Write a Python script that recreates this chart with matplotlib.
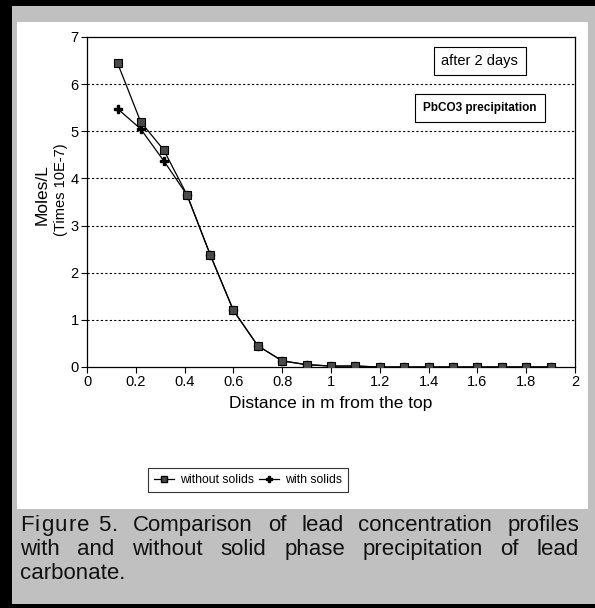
import matplotlib
matplotlib.use("Agg")
import matplotlib.pyplot as plt
from matplotlib.patches import Rectangle
from matplotlib.lines import Line2D

plt.rcParams['font.family'] = ['Liberation Sans', 'DejaVu Sans']

# distance from the top (m)
distance = [0.125, 0.22, 0.315, 0.41, 0.505, 0.6, 0.7, 0.8, 0.9, 1.0,
            1.1, 1.2, 1.3, 1.4, 1.5, 1.6, 1.7, 1.8, 1.9]
# Pb concentration, times 10E-7 moles/L
without_solids = [6.45, 5.2, 4.6, 3.65, 2.38, 1.2, 0.45, 0.13, 0.05, 0.02,
                  0.02, 0.0, 0.0, 0.0, 0.0, 0.0, 0.0, 0.0, 0.0]
with_solids = [5.48, 5.05, 4.37, 3.65, 2.38, 1.2, 0.45, 0.13, 0.05, 0.02,
               0.02, 0.0, 0.0, 0.0, 0.0, 0.0, 0.0, 0.0, 0.0]
xticks = [0, 0.2, 0.4, 0.6, 0.8, 1.0, 1.2, 1.4, 1.6, 1.8, 2.0]
yticks = [0, 1, 2, 3, 4, 5, 6, 7]
caption = ["Figure 5. Comparison of lead concentration profiles",
           "with and without solid phase precipitation of lead",
           "carbonate."]

W, H = 595, 608
fig = plt.figure(figsize=(W / 100, H / 100), dpi=100, facecolor="#c0c0c0")


def px(x, y, w, h):
    # pixel box (top-left origin) -> figure fraction rect
    return (x / W, 1 - (y + h) / H, w / W, h / H)


# frame: black outer edge, white panel
for (x, y, w, h), col in [((0, 0, W, 6), "black"), ((0, 0, 12, H), "black"),
                          ((0, H - 4, W, 4), "black"),
                          ((17, 22, 571, 487), "white")]:
    fx, fy, fw, fh = px(x, y, w, h)
    fig.patches.append(Rectangle((fx, fy), fw, fh, transform=fig.transFigure,
                                 facecolor=col, edgecolor="none", zorder=-5))

ax = fig.add_axes(px(87, 37, 488, 330))
ax.set_zorder(2)
ax.set_facecolor("white")

ax.plot(distance, with_solids, color="black", lw=0.9, marker="P",
        markersize=6, markerfacecolor="black", markeredgecolor="black",
        label="with solids", zorder=3)
ax.plot(distance, without_solids, color="black", lw=0.9, marker="s",
        markersize=6, markerfacecolor="#4a4a4a", markeredgecolor="black",
        markeredgewidth=0.8, label="without solids", zorder=4)

ax.set_xlim(0, 2)
ax.set_ylim(0, 7)
ax.set_xticks(xticks)
ax.set_xticklabels(["%g" % t for t in xticks])
ax.set_yticks(yticks)
ax.tick_params(direction="out", length=4, width=0.8, labelsize=10.5, pad=2)
for s in ax.spines.values():
    s.set_linewidth(0.9)
for yv in yticks[1:-1]:
    ax.axhline(yv, color="black", lw=0.8, linestyle=(0, (2, 2)), zorder=1)

ax.set_xlabel("Distance in m from the top", fontsize=12.5, labelpad=5)

fig.text(42 / W, 1 - 195 / H, "Moles/L", rotation=90, fontsize=12.5,
         ha="center", va="center")
fig.text(61 / W, 1 - 190 / H, "(Times 10E-7)", rotation=90, fontsize=10.5,
         ha="center", va="center")

ax.text(1.61, 6.49, "after 2 days", fontsize=10.5, ha="center", va="center",
        bbox=dict(boxstyle="square,pad=0.5", fc="white", ec="black", lw=0.8))
ax.text(1.61, 5.49, "PbCO3 precipitation", fontsize=8.5, fontweight="bold",
        ha="center", va="center",
        bbox=dict(boxstyle="square,pad=0.7", fc="white", ec="black", lw=0.8))

handles = [Line2D([], [], color="black", lw=0.9, marker="s", markersize=5,
                  markerfacecolor="#4a4a4a", markeredgecolor="black"),
           Line2D([], [], color="black", lw=0.9, marker="P", markersize=5,
                  markerfacecolor="black")]
leg = fig.legend(handles, ["without solids", "with solids"], ncol=2,
                 loc="center", bbox_to_anchor=(248 / W, 1 - 480 / H),
                 fontsize=8.8, frameon=True, fancybox=False, handlelength=1.6,
                 handletextpad=0.5, columnspacing=0.4, borderpad=0.5)
leg.get_frame().set_edgecolor("black")
leg.get_frame().set_linewidth(0.8)

# justified caption
fig.canvas.draw()
r = fig.canvas.get_renderer()
cap_size = 16
track = 1.3          # extra letter spacing for "Figure 5."
left, right = 20, 579
baselines = [531, 555, 579]


def width_of(s):
    if not s:
        return 0.0
    t = fig.text(0, 0, s, fontsize=cap_size)
    w = t.get_window_extent(r).width
    t.remove()
    return w


def put(x, yb, s):
    fig.text(x / W, 1 - yb / H, s, fontsize=cap_size, ha="left",
             va="baseline", color="#111111")


space = width_of("a a") - width_of("aa")
for i, (line, yb) in enumerate(zip(caption, baselines)):
    words = line.split()
    if i == 0:
        words = ["Figure 5."] + words[2:]
    widths = [width_of(wd) + (track * (len(wd) - 1) if wd == "Figure 5." else 0)
              for wd in words]
    gap = (right - left - sum(widths)) / (len(words) - 1) if i < 2 else space
    x = left
    for wd, w in zip(words, widths):
        if wd == "Figure 5.":
            for k, ch in enumerate(wd):
                put(x + width_of(wd[:k]) + track * k, yb, ch)
        else:
            put(x, yb, wd)
        x += w + gap

fig.savefig("out.png", dpi=100, facecolor=fig.get_facecolor())
